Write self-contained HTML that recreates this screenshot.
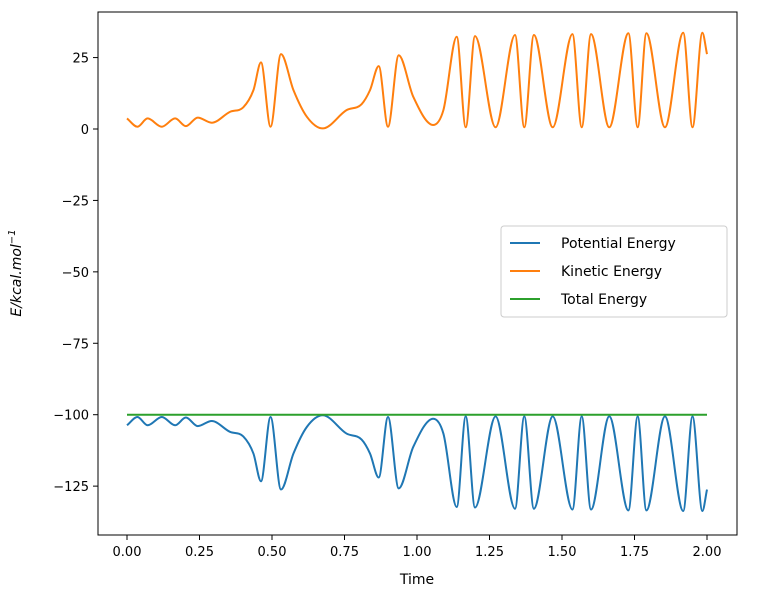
<!DOCTYPE html>
<html><head><meta charset="utf-8"><style>
html,body{margin:0;padding:0;background:#fff}
svg{display:block;font-family:"DejaVu Sans","Liberation Sans",sans-serif}
</style></head><body>
<svg id="chart" width="759" height="599" xmlns="http://www.w3.org/2000/svg"></svg>
<script>
const times = [0,0.036,0.071,0.12,0.166,0.203,0.244,0.292,0.355,0.401,0.436,0.462,0.495,0.531,0.574,0.62,0.675,0.757,0.809,0.838,0.868,0.9,0.937,0.987,1.056,1.091,1.137,1.168,1.2,1.271,1.338,1.37,1.403,1.468,1.536,1.568,1.6,1.663,1.729,1.761,1.791,1.855,1.918,1.95,1.984,2.0];
const kinetic = [3.7,0.8,3.7,0.8,3.7,1,4,2.2,6,7.6,13.6,23.3,0.8,26.2,13.6,4.3,0.2,6.6,8.7,13.6,22,0.8,25.8,11.3,1.4,6.6,32.3,0.6,32.5,0.6,32.9,0.6,32.9,0.6,33.2,0.6,33.2,0.6,33.5,0.6,33.5,0.6,33.7,0.6,33.7,26.2];
const potential = [-103.7,-100.8,-103.7,-100.8,-103.7,-101,-104,-102.2,-106,-107.6,-113.6,-123.3,-100.8,-126.2,-113.6,-104.3,-100.2,-106.6,-108.7,-113.6,-122,-100.8,-125.8,-111.3,-101.4,-106.6,-132.3,-100.6,-132.5,-100.6,-132.9,-100.6,-132.9,-100.6,-133.2,-100.6,-133.2,-100.6,-133.5,-100.6,-133.5,-100.6,-133.7,-100.6,-133.7,-126.2];
const total = times.map(()=>-100);
const xTicks = [0,0.25,0.5,0.75,1.0,1.25,1.5,1.75,2.0];
const yTicks = [25,0,-25,-50,-75,-100,-125];

const NS="http://www.w3.org/2000/svg";
const svg=document.getElementById('chart');
const X0=98,X1=737,Y0=12,Y1=535;
const xs=t=>127+t*290;
const ys=e=>129-e*2.857;
function mk(tag,attrs,parent){const el=document.createElementNS(NS,tag);for(const k in attrs)el.setAttribute(k,attrs[k]);(parent||svg).appendChild(el);return el;}
function pathFor(vals){
  const p=times.map((t,i)=>[xs(t),ys(vals[i])]);
  const n=p.length, m=[];
  for(let i=0;i<n;i++){
    if(i===0){m.push((p[1][1]-p[0][1])/(p[1][0]-p[0][0]));continue;}
    if(i===n-1){m.push((p[i][1]-p[i-1][1])/(p[i][0]-p[i-1][0]));continue;}
    const s0=(p[i][1]-p[i-1][1])/(p[i][0]-p[i-1][0]);
    const s1=(p[i+1][1]-p[i][1])/(p[i+1][0]-p[i][0]);
    m.push(s0*s1<=0?0:(s0+s1)/2);
  }
  let d=`M${p[0][0]},${p[0][1]}`;
  for(let i=0;i<n-1;i++){
    const h=(p[i+1][0]-p[i][0])/3;
    d+=` C${p[i][0]+h},${p[i][1]+m[i]*h} ${p[i+1][0]-h},${p[i+1][1]-m[i+1]*h} ${p[i+1][0]},${p[i+1][1]}`;
  }
  return d;
}
const series=[[potential,'#1f77b4','potential-energy-line'],[kinetic,'#ff7f0e','kinetic-energy-line'],[total,'#2ca02c','total-energy-line']];
series.forEach(s=>{
  const el=mk('path',{d:pathFor(s[0]),fill:'none',stroke:s[1],'stroke-width':2});
  
  
});
const frame=mk('rect',{x:X0,y:Y0,width:X1-X0,height:Y1-Y0,fill:'none',stroke:'#000','stroke-width':1});


xTicks.forEach(t=>{
  mk('line',{x1:xs(t),x2:xs(t),y1:Y1,y2:Y1+5,stroke:'#000'});
  const tx=mk('text',{x:xs(t),y:Y1+21,'text-anchor':'middle','font-size':13,fill:'#000'});
  tx.textContent=t.toFixed(2);
  
  
});
yTicks.forEach(v=>{
  mk('line',{x1:X0-5,x2:X0,y1:ys(v),y2:ys(v),stroke:'#000'});
  const tx=mk('text',{x:X0-9,y:ys(v)+5,'text-anchor':'end','font-size':13,fill:'#000'});
  tx.textContent=v<0?'\u2212'+Math.abs(v):String(v);
  
  
});
const xl=mk('text',{x:417,y:584,'text-anchor':'middle','font-size':14});
xl.textContent='Time';


const yl=mk('text',{x:0,y:0,'text-anchor':'middle','font-size':14,'font-style':'italic',transform:'translate(21,273) rotate(-90)'});
yl.innerHTML='E/kcal.mol<tspan dy="-6" font-size="10">\u22121</tspan>';


const lg=mk('g',{});


mk('rect',{x:501,y:226,width:226,height:91,rx:3,fill:'#fff',stroke:'#ccc'},lg);
['Potential Energy','Kinetic Energy','Total Energy'].forEach((n,i)=>{
  const y=243+i*28;
  mk('line',{x1:510,x2:540,y1:y,y2:y,stroke:series[i][1],'stroke-width':2},lg);
  const t=mk('text',{x:561,y:y+5,'font-size':14},lg);
  t.textContent=n;
  
  
});
</script>
</body></html>
